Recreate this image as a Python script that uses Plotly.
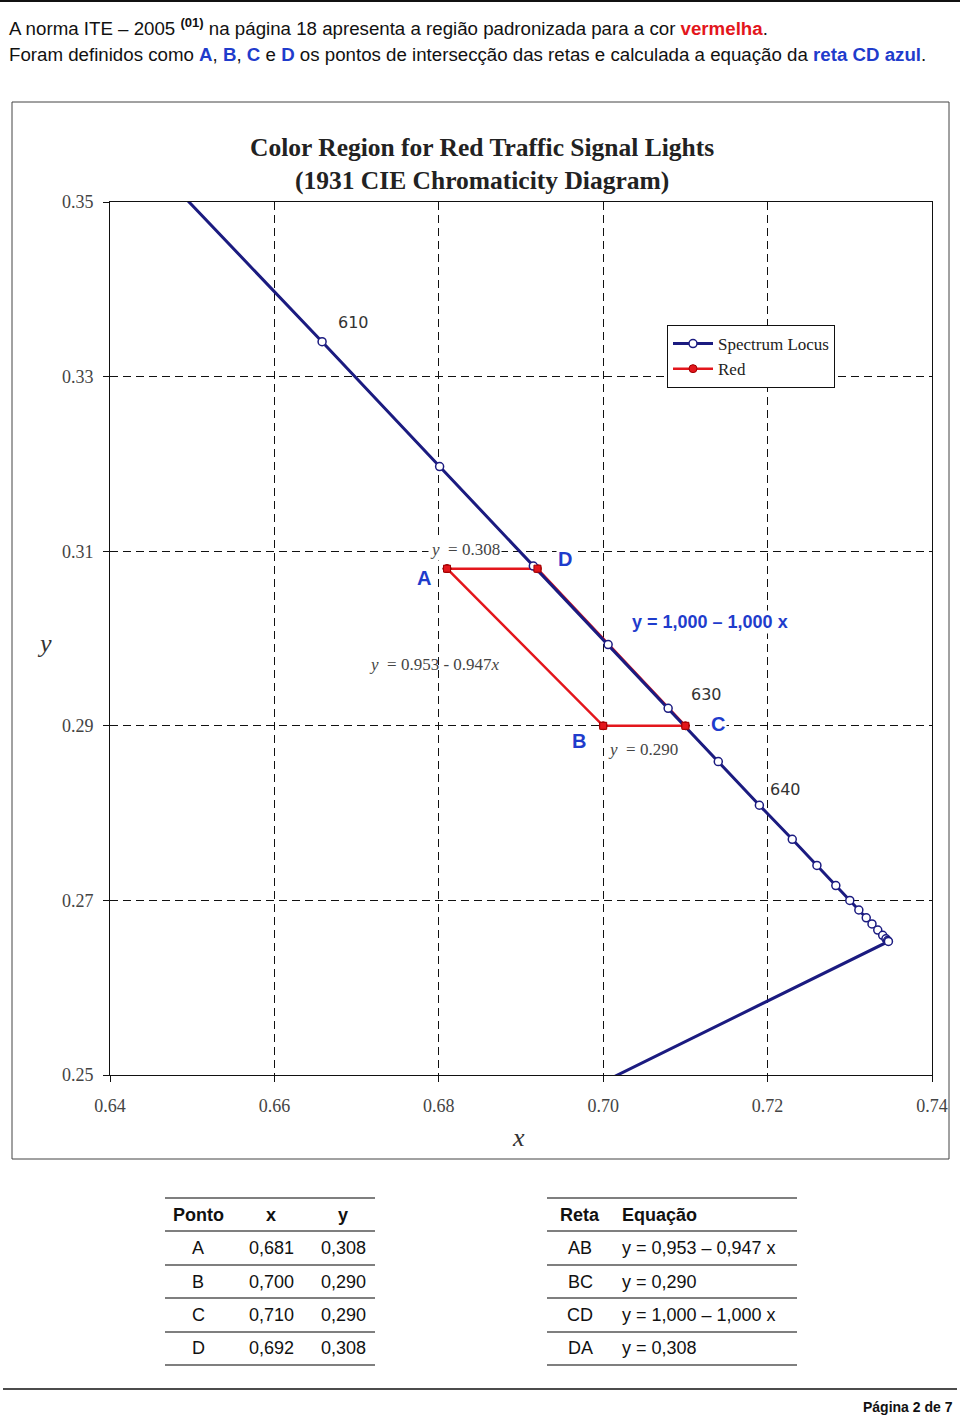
import plotly.graph_objects as go

# ---------------- data ----------------
locus_x = [0.6482, 0.6658, 0.6801, 0.6915, 0.7006, 0.7079, 0.7140, 0.7190, 0.7230, 0.7260,
           0.7283, 0.7300, 0.7311, 0.7320, 0.7327, 0.7334, 0.7340, 0.7344, 0.7346, 0.7347, 0.1741]
locus_y = [0.3514, 0.3340, 0.3197, 0.3083, 0.2993, 0.2920, 0.2859, 0.2809, 0.2770, 0.2740,
           0.2717, 0.2700, 0.2689, 0.2680, 0.2673, 0.2666, 0.2660, 0.2656, 0.2654, 0.2653, 0.0050]
wl_labels = ["610", "630", "640"]
wl_label_x = [0.6658, 0.7079, 0.7190]
wl_label_y = [0.3340, 0.2920, 0.2809]

point_names = ["A", "B", "C", "D"]
point_x = [0.681, 0.700, 0.710, 0.692]
point_y = [0.308, 0.290, 0.290, 0.308]
red_order = [0, 3, 2, 1, 0]   # A -> D -> C -> B -> A

line_names = ["AB", "BC", "CD", "DA"]
line_eqs = ["y = 0,953 – 0,947 x", "y = 0,290", "y = 1,000 – 1,000 x", "y = 0,308"]

x_ticks = [0.64, 0.66, 0.68, 0.70, 0.72, 0.74]
y_ticks = [0.25, 0.27, 0.29, 0.31, 0.33, 0.35]

# ---------------- page geometry helpers ----------------
W, H = 960, 1417
def PX(px):
    return px / W
def PY(py):
    return 1 - py / H

NAVY = "#1b1b80"
RED = "#e3161c"
BLUE = "#1f3ccc"
SANS = "Liberation Sans, Arial, sans-serif"
SERIF = "Liberation Serif, Times New Roman, serif"
VER = "DejaVu Sans, Verdana, sans-serif"

fig = go.Figure()

red_x = [point_x[i] for i in red_order]
red_y = [point_y[i] for i in red_order]
fig.add_trace(go.Scatter(x=red_x, y=red_y, mode="lines+markers", name="Red",
                         line=dict(color=RED, width=2.5),
                         marker=dict(color=RED, size=8, line=dict(color="#a00000", width=1)),
                         legendrank=2))
fig.add_trace(go.Scatter(x=locus_x, y=locus_y, mode="lines+markers", name="Spectrum Locus",
                         line=dict(color=NAVY, width=3),
                         marker=dict(color="white", size=8, symbol="circle",
                                     line=dict(color=NAVY, width=1.5)),
                         legendrank=1))
fig.add_trace(go.Scatter(x=point_x, y=point_y, mode="markers", showlegend=False,
                         marker=dict(color=RED, size=7, symbol="square",
                                     line=dict(color="#a00000", width=1))))

ann = []
def A(**kw):
    kw.setdefault("showarrow", False)
    kw.setdefault("xanchor", "center")
    kw.setdefault("yanchor", "middle")
    ann.append(kw)

# wavelength labels
shifts_wl = [(31, 19), (38, 14), (26, 16)]
for t, x, y, (dx, dy) in zip(wl_labels, wl_label_x, wl_label_y, shifts_wl):
    A(x=x, y=y, xref="x", yref="y", text=t, xshift=dx, yshift=dy,
      font=dict(family=VER, size=16, color="#333"))
# point letters
shifts_pt = [(-23, -9), (-24, -15), (33, 2), (28, 10)]
for n, x, y, (dx, dy) in zip(point_names, point_x, point_y, shifts_pt):
    A(x=x, y=y, xref="x", yref="y", text="<b>%s</b>" % n, xshift=dx, yshift=dy, bgcolor="white",
      font=dict(family=SANS, size=20, color=BLUE))
# equation labels in chart
A(x=0.6832, y=0.3102, xref="x", yref="y", text="<i>y</i>  = 0.308", bgcolor="white",
  font=dict(family=SERIF, size=17, color="#444"))
A(x=0.6795, y=0.2970, xref="x", yref="y", text="<i>y</i>  = 0.953 - 0.947<i>x</i>",
  font=dict(family=SERIF, size=17, color="#444"))
A(x=0.7048, y=0.2873, xref="x", yref="y", text="<i>y</i>  = 0.290", bgcolor="white",
  font=dict(family=SERIF, size=17, color="#444"))
A(x=0.7130, y=0.3019, xref="x", yref="y", text="<b>y = 1,000 – 1,000 x</b>", bgcolor="white",
  font=dict(family=SANS, size=18, color=BLUE))

# title
A(x=PX(482), y=PY(147), xref="paper", yref="paper",
  text="<b>Color Region for Red Traffic Signal Lights</b>",
  font=dict(family=SERIF, size=25.5, color="#222"))
A(x=PX(482), y=PY(180), xref="paper", yref="paper",
  text="<b>(1931 CIE Chromaticity Diagram)</b>",
  font=dict(family=SERIF, size=25.5, color="#222"))
# axis titles
A(x=PX(44), y=PY(643), xref="paper", yref="paper", text="<i>y</i>",
  font=dict(family=SERIF, size=26, color="#333"))
A(x=PX(518), y=PY(1137), xref="paper", yref="paper", text="<i>x</i>",
  font=dict(family=SERIF, size=26, color="#333"))

# header text
A(x=PX(7), y=PY(27), xref="paper", yref="paper", xanchor="left",
  text="A norma ITE – 2005 <sup><b>(01)</b></sup> na página 18 apresenta a região padronizada para a cor "
       "<span style='color:%s'><b>vermelha</b></span>." % RED,
  font=dict(family=SANS, size=18.7, color="#111"))
A(x=PX(7), y=PY(54), xref="paper", yref="paper", xanchor="left",
  text=("Foram definidos como <span style='color:{b}'><b>A</b></span>, "
        "<span style='color:{b}'><b>B</b></span>, <span style='color:{b}'><b>C</b></span> e "
        "<span style='color:{b}'><b>D</b></span> os pontos de intersecção das retas e calculada "
        "a equação da <span style='color:{b}'><b>reta CD azul</b></span>.").format(b=BLUE),
  font=dict(family=SANS, size=18.7, color="#111"))

# footer
A(x=PX(955), y=PY(1407), xref="paper", yref="paper", xanchor="right",
  text="<b>Página 2 de 7</b>", font=dict(family=SANS, size=14, color="#111"))

# tables
TF = dict(family=SANS, size=18, color="#111")
row_y = [1248, 1282, 1315, 1348]
A(x=PX(198), y=PY(1215), xref="paper", yref="paper", text="<b>Ponto</b>", font=TF)
A(x=PX(271), y=PY(1215), xref="paper", yref="paper", text="<b>x</b>", font=TF)
A(x=PX(343), y=PY(1215), xref="paper", yref="paper", text="<b>y</b>", font=TF)
for n, x, y, ry in zip(point_names, point_x, point_y, row_y):
    A(x=PX(198), y=PY(ry), xref="paper", yref="paper", text=n, font=TF)
    A(x=PX(271), y=PY(ry), xref="paper", yref="paper", text=("%.3f" % x).replace(".", ","), font=TF)
    A(x=PX(343), y=PY(ry), xref="paper", yref="paper", text=("%.3f" % y).replace(".", ","), font=TF)
A(x=PX(580), y=PY(1215), xref="paper", yref="paper", text="<b>Reta</b>", font=TF)
A(x=PX(620), y=PY(1215), xref="paper", yref="paper", xanchor="left", text="<b>Equação</b>", font=TF)
for n, e, ry in zip(line_names, line_eqs, row_y):
    A(x=PX(580), y=PY(ry), xref="paper", yref="paper", text=n, font=TF)
    A(x=PX(620), y=PY(ry), xref="paper", yref="paper", xanchor="left", text=e, font=TF)

shapes = []
shapes.append(dict(type="line", xref="paper", yref="paper", x0=0, x1=1, y0=PY(1), y1=PY(1),
                   line=dict(color="#111", width=2)))
shapes.append(dict(type="rect", xref="paper", yref="paper", x0=PX(12), x1=PX(949), y0=PY(1159), y1=PY(102),
                   line=dict(color="#444", width=1), layer="below"))
shapes.append(dict(type="line", xref="paper", yref="paper", x0=PX(3), x1=PX(957), y0=PY(1389), y1=PY(1389),
                   line=dict(color="#111", width=1.5)))
for ry in [1198, 1231, 1265, 1298, 1332, 1365]:
    shapes.append(dict(type="line", xref="paper", yref="paper", x0=PX(165), x1=PX(375), y0=PY(ry), y1=PY(ry),
                       line=dict(color="#555", width=1.5)))
    shapes.append(dict(type="line", xref="paper", yref="paper", x0=PX(547), x1=PX(797), y0=PY(ry), y1=PY(ry),
                       line=dict(color="#555", width=1.5)))

fig.update_layout(
    template="none",
    width=W, height=H, margin=dict(l=0, r=0, t=0, b=0, pad=0, autoexpand=False),
    paper_bgcolor="white", plot_bgcolor="white",
    annotations=ann, shapes=shapes,
    legend=dict(x=PX(667), y=PY(325), xanchor="left", yanchor="top",
                bgcolor="white", bordercolor="#111", borderwidth=1,
                font=dict(family=SERIF, size=17, color="#222"), itemwidth=40,
                tracegroupgap=0),
    xaxis=dict(domain=[PX(110), PX(932)], range=[0.64, 0.74], tickvals=x_ticks,
               ticktext=["%.2f" % v for v in x_ticks], automargin=False,
               showgrid=True, gridcolor="#111", gridwidth=1, griddash="8px,5px",
               showline=True, linecolor="#111", linewidth=1, mirror=True,
               ticks="outside", ticklen=6, tickcolor="#111", ticklabelstandoff=8,
               tickfont=dict(family=SERIF, size=18, color="#444"), zeroline=False),
    yaxis=dict(domain=[PY(1075), PY(202)], range=[0.25, 0.35], tickvals=y_ticks,
               ticktext=["%.2f" % v for v in y_ticks], automargin=False,
               showgrid=True, gridcolor="#111", gridwidth=1, griddash="8px,5px",
               showline=True, linecolor="#111", linewidth=1, mirror=True,
               ticks="outside", ticklen=6, tickcolor="#111", ticklabelstandoff=6,
               tickfont=dict(family=SERIF, size=18, color="#444"), zeroline=False),
)

fig.write_html("out.html")
